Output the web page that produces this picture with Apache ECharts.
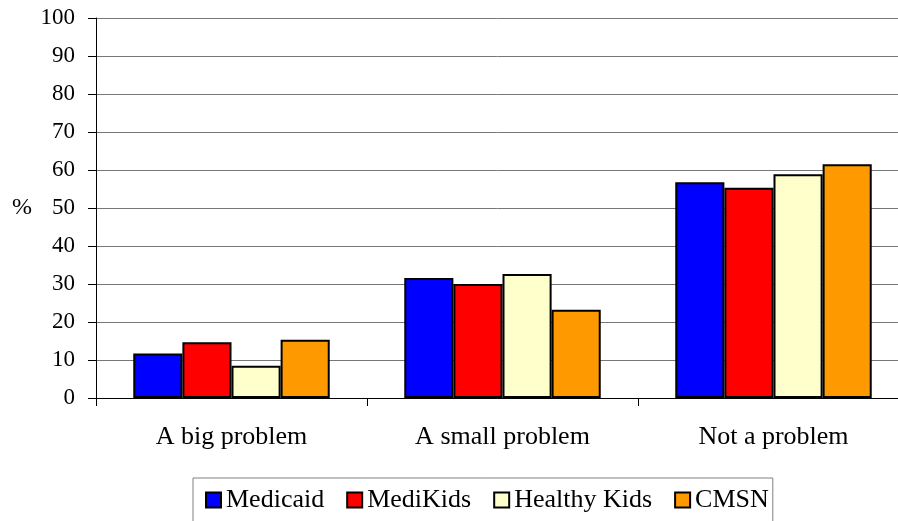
<!DOCTYPE html>
<html>
<head>
<meta charset="utf-8">
<script src="https://cdn.jsdelivr.net/npm/echarts@6/dist/echarts.min.js"></script>
<style>
html, body { margin: 0; padding: 0; background: #fff; }
#chart { width: 898px; height: 521px; }
</style>
</head>
<body>
<div id="chart"></div>
<script>
var categories = ['A big problem', 'A small problem', 'Not a problem'];
var seriesNames = ['Medicaid', 'MediKids', 'Healthy Kids', 'CMSN'];
var medicaid = [11.7, 31.6, 56.8];
var mediKids = [14.7, 30.0, 55.3];
var healthyKids = [8.5, 32.6, 58.9];
var cmsn = [15.3, 23.2, 61.5];
var colors = ['#0000FF', '#FF0000', '#FFFFCC', '#FF9900'];

var font = 'Liberation Serif';
var chart = echarts.init(document.getElementById('chart'));

var values = [medicaid, mediKids, healthyKids, cmsn];
var series = seriesNames.map(function (name, i) {
	return {
		name: name,
		type: 'bar',
		data: values[i],
		barGap: '0%',
		barCategoryGap: '27.5%',
		itemStyle: { color: colors[i], borderColor: '#000', borderWidth: 2 }
	};
});

chart.setOption({
	backgroundColor: '#fff',
	animation: false,
	grid: { left: 96, top: 18, width: 813, height: 380, outerBoundsMode: 'none' },
	legend: {
		data: seriesNames,
		left: 193,
		top: 478,
		itemWidth: 15,
		itemHeight: 15,
		itemGap: 22,
		borderColor: '#808080',
		borderWidth: 1,
		padding: [9, 4, 12, 12],
		icon: 'rect',
		itemStyle: { borderColor: '#000', borderWidth: 2 },
		textStyle: { fontFamily: font, fontSize: 26, color: '#000' }
	},
	xAxis: {
		type: 'category',
		data: categories,
		axisLine: { lineStyle: { color: '#000', width: 1 } },
		axisTick: { show: true, length: 8, lineStyle: { color: '#000' } },
		axisLabel: { fontFamily: font, fontSize: 26, color: '#000', margin: 26 }
	},
	yAxis: {
		type: 'value',
		min: 0,
		max: 100,
		interval: 10,
		name: '%',
		nameLocation: 'middle',
		nameRotate: 0,
		nameGap: 64,
		nameTextStyle: { fontFamily: font, fontSize: 24, color: '#000' },
		axisLine: { show: true, lineStyle: { color: '#000', width: 1 } },
		axisTick: { show: true, length: 8, lineStyle: { color: '#000' } },
		axisLabel: { fontFamily: font, fontSize: 23, color: '#000', margin: 21 },
		splitLine: { lineStyle: { color: '#777', width: 1 } }
	},
	series: series
});
</script>
</body>
</html>
